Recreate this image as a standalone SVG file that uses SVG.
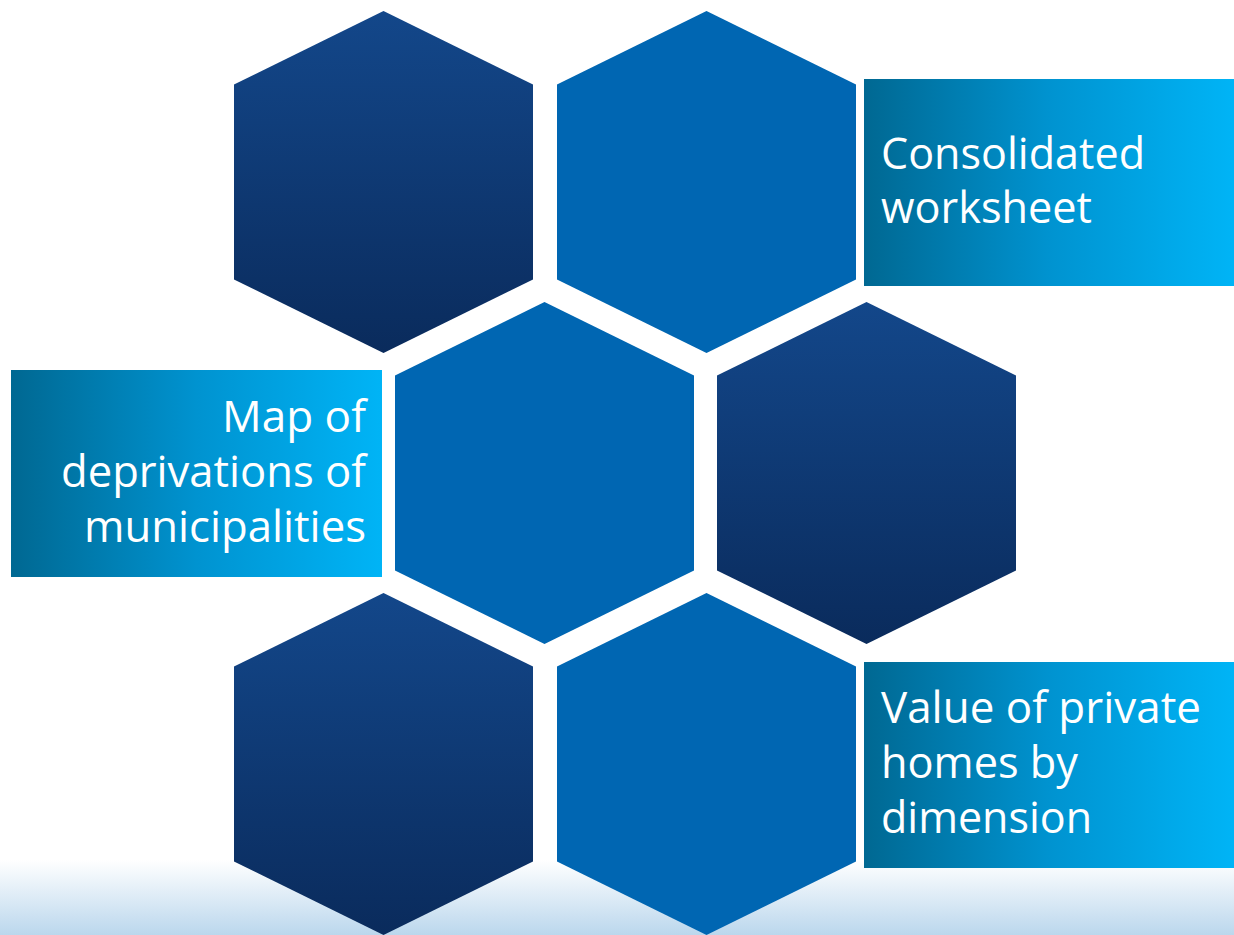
<svg xmlns="http://www.w3.org/2000/svg" width="1234" height="935" viewBox="0 0 1234 935">
  <defs>
    <linearGradient id="gDark" x1="0" y1="0" x2="0" y2="1">
      <stop offset="0" stop-color="#13478a"/>
      <stop offset="1" stop-color="#0a2b5c"/>
    </linearGradient>
    <linearGradient id="gBox" x1="0" y1="0" x2="1" y2="0">
      <stop offset="0" stop-color="#006892"/>
      <stop offset="0.5" stop-color="#0093d0"/>
      <stop offset="1" stop-color="#00b4f6"/>
    </linearGradient>
    <linearGradient id="gBg" x1="0" y1="0" x2="0" y2="1">
      <stop offset="0" stop-color="#ffffff"/>
      <stop offset="1" stop-color="#bbd7ed"/>
    </linearGradient>
    <style>
      .dark { fill: url(#gDark); }
      .mid { fill: #0066b2; }
      .box { fill: url(#gBox); }
      .lbl { font-family: "Open Sans", "Noto Sans", "Liberation Sans", sans-serif; font-size: 43px; fill: #ffffff; }
    </style>
  </defs>
  <rect x="0" y="0" width="1234" height="935" fill="#ffffff"/>
  <rect x="0" y="860" width="1234" height="75" fill="url(#gBg)"/>

  <g id="hex1"><polygon class="dark" points="383.5,11 533,84.5 533,279.5 383.5,353 234,279.5 234,84.5"/></g>
  <g id="hex2"><polygon class="mid" points="706.5,11 856,84.5 856,279.5 706.5,353 557,279.5 557,84.5"/></g>
  <g id="hex3"><polygon class="mid" points="544.5,302 694,375.5 694,570.5 544.5,644 395,570.5 395,375.5"/></g>
  <g id="hex4"><polygon class="dark" points="866.5,302 1016,375.5 1016,570.5 866.5,644 717,570.5 717,375.5"/></g>
  <g id="hex5"><polygon class="dark" points="383.5,593 533,666.5 533,861.5 383.5,935 234,861.5 234,666.5"/></g>
  <g id="hex6"><polygon class="mid" points="706.5,593 856,666.5 856,861.5 706.5,935 557,861.5 557,666.5"/></g>

  <g id="box-consolidated">
    <rect class="box" x="864" y="79" width="370" height="207"/>
    <text class="lbl" x="881" y="168.5" textLength="264" lengthAdjust="spacingAndGlyphs">Consolidated</text>
    <text class="lbl" x="881" y="222.5" textLength="211" lengthAdjust="spacingAndGlyphs">worksheet</text>
  </g>
  <g id="box-map">
    <rect class="box" x="11" y="370" width="371" height="207"/>
    <text class="lbl" x="366" y="431.5" text-anchor="end" textLength="144" lengthAdjust="spacingAndGlyphs">Map of</text>
    <text class="lbl" x="366" y="486.5" text-anchor="end" textLength="305" lengthAdjust="spacingAndGlyphs">deprivations of</text>
    <text class="lbl" x="366" y="541.5" text-anchor="end" textLength="282" lengthAdjust="spacingAndGlyphs">municipalities</text>
  </g>
  <g id="box-value">
    <rect class="box" x="864" y="662" width="370" height="206"/>
    <text class="lbl" x="881" y="723" textLength="320" lengthAdjust="spacingAndGlyphs">Value of private</text>
    <text class="lbl" x="881" y="778" textLength="197" lengthAdjust="spacingAndGlyphs">homes by</text>
    <text class="lbl" x="881" y="833" textLength="211" lengthAdjust="spacingAndGlyphs">dimension</text>
  </g>
  <g id="connectors"/>
</svg>
